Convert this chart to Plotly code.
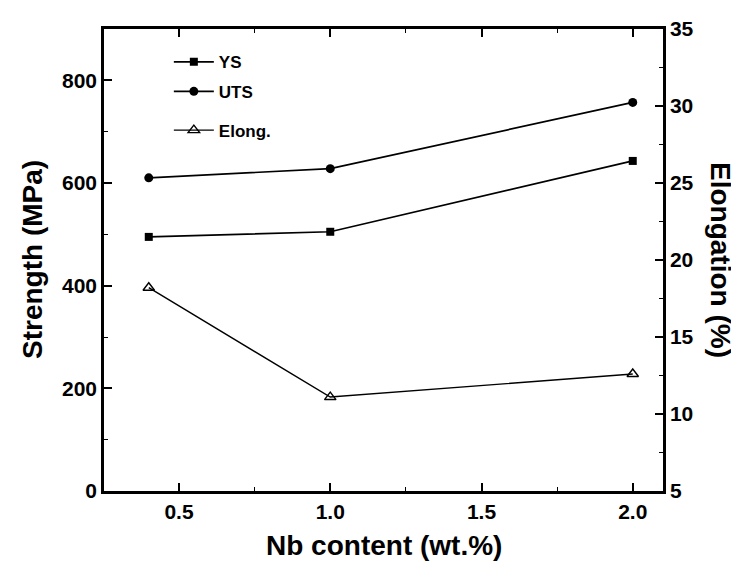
import plotly.graph_objects as go

nb = [0.4, 1.0, 2.0]
ys = [495, 505, 643]
uts = [610, 628, 757]
elong = [18.2, 11.1, 12.6]

FONT = "Liberation Sans, Arial, sans-serif"

fig = go.Figure()
fig.add_trace(go.Scatter(x=nb, y=ys, name="YS", mode="lines+markers", legend="legend",
                         line=dict(color="black", width=1.7),
                         marker=dict(symbol="square", size=8, color="black")))
fig.add_trace(go.Scatter(x=nb, y=uts, name="UTS", mode="lines+markers", legend="legend2",
                         line=dict(color="black", width=1.7),
                         marker=dict(symbol="circle", size=9, color="black")))
fig.add_trace(go.Scatter(x=nb, y=elong, name="Elong.", mode="lines+markers", yaxis="y2",
                         legend="legend3",
                         line=dict(color="black", width=1.4),
                         marker=dict(symbol="triangle-up-open", size=10, color="black",
                                     line=dict(width=1.4, color="black"))))

tickfont = dict(family=FONT, size=21, color="black", weight="bold")
titlefont = dict(family=FONT, size=28, color="black", weight="bold")
legfont = dict(family=FONT, size=17, color="black", weight="bold")

axis_common = dict(showgrid=False, zeroline=False, showline=True, linecolor="black",
                   linewidth=2.5, ticks="inside", ticklen=8, tickwidth=1.8, tickcolor="black",
                   tickfont=tickfont, ticklabeloverflow="allow")

def leg(y):
    return dict(x=0.116, y=y, xanchor="left", yanchor="top", bgcolor="rgba(0,0,0,0)",
                font=legfont, itemwidth=40)

fig.update_layout(
    width=731, height=570,
    margin=dict(l=96, r=76, t=9, b=87),
    paper_bgcolor="white", plot_bgcolor="white",
    font=dict(family=FONT, color="black"),
    xaxis=dict(range=[0.252, 2.1], tickvals=[0.5, 1.0, 1.5, 2.0],
               ticktext=["0.5", "1.0", "1.5", "2.0"], mirror="ticks",
               minor=dict(ticks="inside", ticklen=4, dtick=0.25, tickcolor="black", tickwidth=1.4),
               **axis_common),
    yaxis=dict(range=[0, 900], tickvals=[0, 200, 400, 600, 800],
               minor=dict(ticks="inside", ticklen=4, dtick=100, tickcolor="black", tickwidth=1.4),
               **axis_common),
    yaxis2=dict(range=[5, 35], tickvals=[5, 10, 15, 20, 25, 30, 35], overlaying="y", side="right",
                minor=dict(ticks="inside", ticklen=4, dtick=2.5, tickcolor="black", tickwidth=1.4),
                **axis_common),
    legend=leg(0.967),
    legend2=leg(0.903),
    legend3=leg(0.819),
    showlegend=True,
    annotations=[
        dict(text="Elongation (%)", textangle=90, xref="paper", yref="paper",
             x=1.0, xshift=58, xanchor="center", y=0.5, yanchor="middle",
             showarrow=False, font=titlefont),
        dict(text="Strength (MPa)", textangle=-90, xref="paper", yref="paper",
             x=0.0, xshift=-72, xanchor="center", y=0.5, yanchor="middle",
             showarrow=False, font=titlefont),
        dict(text="Nb content (wt.%)", xref="paper", yref="paper",
             x=0.5, y=0.0, yshift=-54, xanchor="center", yanchor="middle",
             showarrow=False, font=titlefont),
    ],
)

fig.write_html("out.html")
